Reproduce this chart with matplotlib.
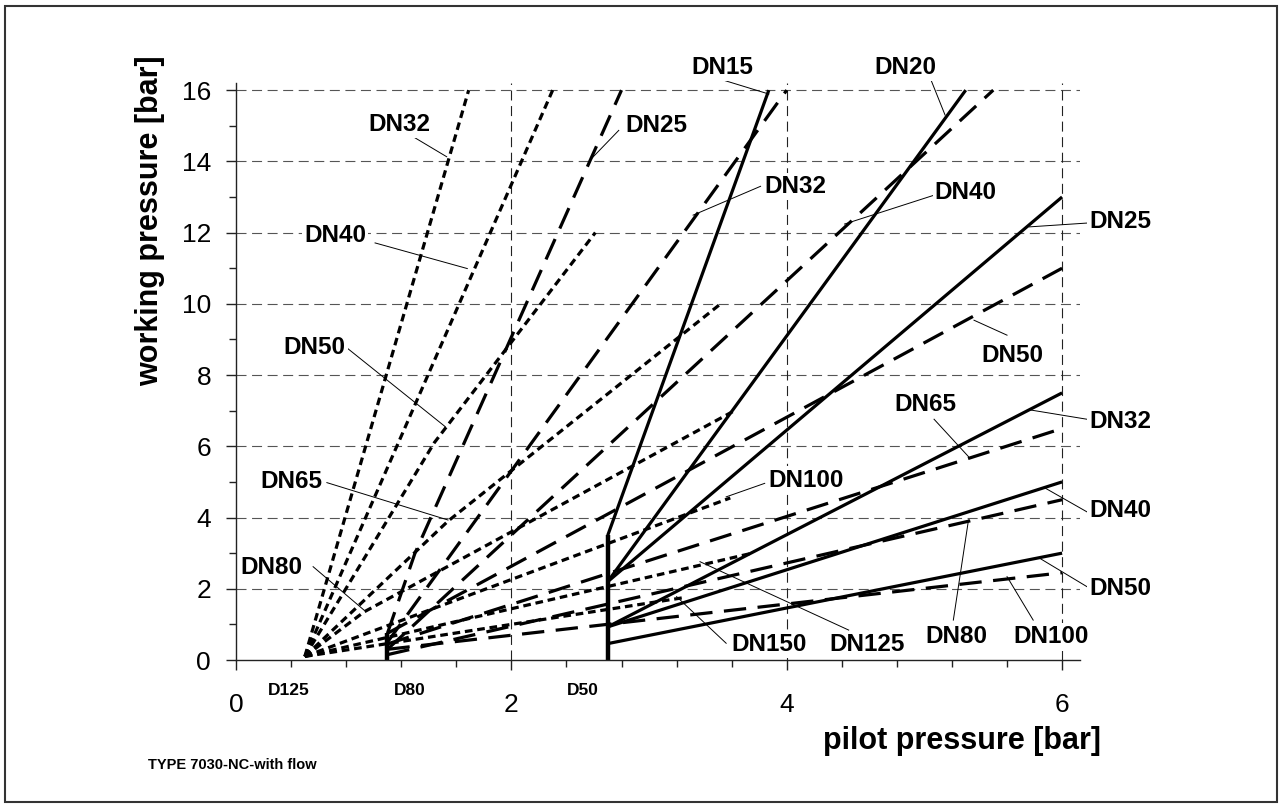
import matplotlib
matplotlib.use("Agg")
import matplotlib.pyplot as plt
from matplotlib.patches import Rectangle
from matplotlib.ticker import MultipleLocator

plt.rcParams['font.family'] = ['Liberation Sans', 'DejaVu Sans']

# short dash family, starts at D125
short_x = [[0.5, 1.69], [0.5, 2.30], [0.5, 1.44, 2.61], [0.5, 1.54, 3.52],
           [0.5, 0.93, 3.62], [0.5, 3.59], [0.5, 3.75], [0.5, 3.25]]
short_y = [[0.1, 16], [0.1, 16], [0.1, 6.1, 12], [0.1, 3.9, 10],
           [0.1, 1.35, 7.0], [0.1, 4.55], [0.1, 3.0], [0.1, 1.75]]

# long dash family, starts at D80
long_x = [[1.1, 1.3, 2.80], [1.1, 4.0], [1.1, 5.5], [1.1, 6.0],
          [1.1, 6.0], [1.1, 6.0], [1.1, 6.0]]
long_y = [[0.75, 3.0, 16], [0.5, 16], [0.3, 16], [0.75, 11],
          [0.45, 6.5], [0.15, 4.5], [0.3, 2.45]]

# solid family, starts at D50
solid_x = [[2.7, 3.87], [2.7, 5.3], [2.7, 6.0], [2.7, 6.0], [2.7, 6.0], [2.7, 6.0]]
solid_y = [[3.5, 16], [2.2, 16], [2.2, 13], [0.93, 7.5], [0.93, 5.0], [0.46, 3.0]]

# vertical start stubs
stub_x = [1.1, 2.7]
stub_top = [0.75, 3.5]

# labels: text, text pos, leader start, leader end
labels = [
    ("DN15", 3.53, 16.64, 3.54, 16.28, 3.87, 15.89),
    ("DN20", 4.86, 16.64, 5.04, 16.36, 5.15, 15.30),
    ("DN32", 1.19, 15.04, 1.27, 14.73, 1.53, 14.13),
    ("DN25", 3.05, 15.02, 2.78, 14.87, 2.57, 14.03),
    ("DN40", 0.72, 11.93, 1.01, 11.71, 1.68, 10.99),
    ("DN32", 4.06, 13.30, 3.81, 13.30, 3.32, 12.49),
    ("DN40", 5.30, 13.13, 5.07, 13.05, 4.42, 12.24),
    ("DN25", 6.42, 12.32, 6.19, 12.27, 5.76, 12.16),
    ("DN50", 0.57, 8.78, 0.80, 8.78, 1.52, 6.55),
    ("DN50", 5.64, 8.56, 5.60, 9.12, 5.36, 9.54),
    ("DN65", 0.40, 5.02, 0.66, 4.98, 1.54, 3.93),
    ("DN65", 5.01, 7.18, 5.07, 6.76, 5.32, 5.71),
    ("DN32", 6.42, 6.71, 6.18, 6.76, 5.77, 7.02),
    ("DN100", 4.14, 5.05, 3.84, 4.96, 3.56, 4.58),
    ("DN40", 6.42, 4.21, 6.18, 4.16, 5.88, 4.82),
    ("DN80", 0.26, 2.61, 0.56, 2.62, 0.93, 1.40),
    ("DN50", 6.42, 2.02, 6.18, 2.06, 5.84, 2.85),
    ("DN150", 3.87, 0.43, 3.56, 0.47, 3.20, 1.78),
    ("DN125", 4.58, 0.43, 4.45, 0.84, 3.37, 2.76),
    ("DN80", 5.23, 0.65, 5.21, 1.12, 5.32, 3.93),
    ("DN100", 5.92, 0.65, 5.79, 1.12, 5.60, 2.34),
]

start_names = ["D125", "D80", "D50"]
start_pos = [0.38, 1.26, 2.52]

W, H = 1285, 810
fig = plt.figure(figsize=(W / 100, H / 100), dpi=100)
ax = fig.add_axes([236 / W, 150 / H, (1080 - 236) / W, (660 - 83) / H])
ax.set_xlim(0, 6.13)
ax.set_ylim(0, 16.2)

for s in ['top', 'right']:
    ax.spines[s].set_visible(False)
for s in ['left', 'bottom']:
    ax.spines[s].set_linewidth(1.0)
    ax.spines[s].set_color('#222222')

# grid
for yv in range(2, 17, 2):
    ax.plot([0, 6.13], [yv, yv], color='#555555', lw=0.8, ls=(0, (9, 5)), zorder=1)
for xv in [2, 4, 6]:
    ax.plot([xv, xv], [0, 16.2], color='#222222', lw=0.8, ls=(0, (9, 5)), zorder=1)

lw = 2.3
for xs, ys in zip(short_x, short_y):
    ax.plot(xs, ys, color='black', lw=lw, ls=(0, (2.4, 1.5)), zorder=2)
for xs, ys in zip(long_x, long_y):
    ax.plot(xs, ys, color='black', lw=lw, ls=(0, (7, 3.6)), zorder=2)
for xs, ys in zip(solid_x, solid_y):
    ax.plot(xs, ys, color='black', lw=lw, solid_capstyle='butt', zorder=2)
for sx, st in zip(stub_x, stub_top):
    ax.plot([sx, sx], [0, st], color='black', lw=3.2, solid_capstyle='butt', zorder=2)

for t, tx, ty, x0, y0, x1, y1 in labels:
    ax.plot([x0, x1], [y0, y1], color='black', lw=0.7, zorder=3, clip_on=False)
    ax.text(tx, ty, t, ha='center', va='center', fontsize=17.5, fontweight='bold',
            zorder=4, clip_on=False,
            bbox=dict(facecolor='white', edgecolor='none', pad=1.5))

# ticks
ax.xaxis.set_major_locator(MultipleLocator(2))
ax.xaxis.set_minor_locator(MultipleLocator(0.4))
ax.yaxis.set_major_locator(MultipleLocator(2))
ax.yaxis.set_minor_locator(MultipleLocator(1))
ax.tick_params(axis='both', which='major', direction='out', length=7, width=1.0,
               labelsize=19, color='#222222')
ax.tick_params(axis='both', which='minor', direction='out', length=5, width=1.0,
               color='#222222')
ax.tick_params(axis='y', which='major', pad=11)
ax.tick_params(axis='x', which='major', pad=17)

for name, px in zip(start_names, start_pos):
    ax.text(px, -0.85, name, ha='center', va='center', fontsize=12.5,
            fontweight='bold', clip_on=False)

fig.text(150 / W, 1 - 221 / H, "working pressure [bar]", rotation=90,
         ha='center', va='center', fontsize=22, fontweight='bold')
fig.text(962 / W, 1 - 741 / H, "pilot pressure [bar]", ha='center', va='center',
         fontsize=22, fontweight='bold')
fig.text(232 / W, 1 - 765 / H, "TYPE 7030-NC-with flow", ha='center', va='center',
         fontsize=10.5, fontweight='bold')

fig.patches.append(Rectangle((5 / W, 8 / H), (1277 - 5) / W, (804 - 8) / H,
                             transform=fig.transFigure, fill=False,
                             edgecolor='#333333', lw=1.5))

fig.savefig("out.png", dpi=100)
